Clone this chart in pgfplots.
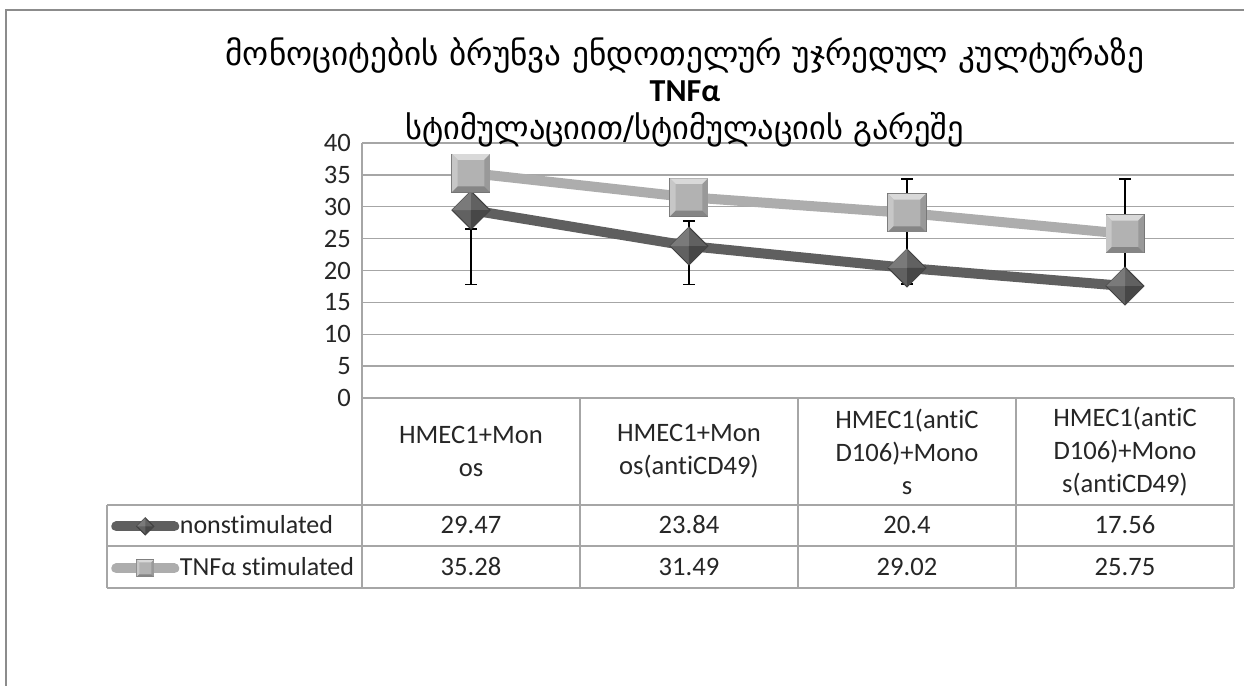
\documentclass[border=0pt]{standalone}
\usepackage{fontspec}
\setmainfont{Carlito}[Ligatures={NoCommon}]
\newfontfamily\geo{DejaVu Sans}
\usepackage{pgfplots}
\pgfplotsset{compat=1.18}
\usepackage{pgfplotstable}

\definecolor{gridc}{HTML}{A6A6A6}
\definecolor{framec}{HTML}{8C8C8C}
\definecolor{nonc}{HTML}{5F5F5F}
\definecolor{tnfc}{HTML}{ADADAD}
\definecolor{txt}{HTML}{262626}

% bevelled marks (Excel 3D look)
\pgfdeclareplotmark{bevsq}{%
  \pgfsetlinewidth{0.5pt}%
  \pgfsetfillcolor{black!30}\pgfsetstrokecolor{black!55}%
  \pgfpathrectangle{\pgfpoint{-\pgfplotmarksize}{-\pgfplotmarksize}}{\pgfpoint{2\pgfplotmarksize}{2\pgfplotmarksize}}%
  \pgfusepath{fill,stroke}%
  \pgfsetfillcolor{black!15}% top
  \pgfpathmoveto{\pgfpoint{-\pgfplotmarksize}{\pgfplotmarksize}}\pgfpathlineto{\pgfpoint{\pgfplotmarksize}{\pgfplotmarksize}}%
  \pgfpathlineto{\pgfpoint{0.7\pgfplotmarksize}{0.7\pgfplotmarksize}}\pgfpathlineto{\pgfpoint{-0.7\pgfplotmarksize}{0.7\pgfplotmarksize}}\pgfpathclose\pgfusepath{fill}%
  \pgfsetfillcolor{black!22}% left
  \pgfpathmoveto{\pgfpoint{-\pgfplotmarksize}{\pgfplotmarksize}}\pgfpathlineto{\pgfpoint{-\pgfplotmarksize}{-\pgfplotmarksize}}%
  \pgfpathlineto{\pgfpoint{-0.7\pgfplotmarksize}{-0.7\pgfplotmarksize}}\pgfpathlineto{\pgfpoint{-0.7\pgfplotmarksize}{0.7\pgfplotmarksize}}\pgfpathclose\pgfusepath{fill}%
  \pgfsetfillcolor{black!40}% right
  \pgfpathmoveto{\pgfpoint{\pgfplotmarksize}{\pgfplotmarksize}}\pgfpathlineto{\pgfpoint{\pgfplotmarksize}{-\pgfplotmarksize}}%
  \pgfpathlineto{\pgfpoint{0.7\pgfplotmarksize}{-0.7\pgfplotmarksize}}\pgfpathlineto{\pgfpoint{0.7\pgfplotmarksize}{0.7\pgfplotmarksize}}\pgfpathclose\pgfusepath{fill}%
  \pgfsetfillcolor{black!48}% bottom
  \pgfpathmoveto{\pgfpoint{-\pgfplotmarksize}{-\pgfplotmarksize}}\pgfpathlineto{\pgfpoint{\pgfplotmarksize}{-\pgfplotmarksize}}%
  \pgfpathlineto{\pgfpoint{0.7\pgfplotmarksize}{-0.7\pgfplotmarksize}}\pgfpathlineto{\pgfpoint{-0.7\pgfplotmarksize}{-0.7\pgfplotmarksize}}\pgfpathclose\pgfusepath{fill}%
}
\pgfdeclareplotmark{bevdia}{%
  \pgftransformrotate{45}%
  \pgfsetlinewidth{0.5pt}%
  \pgfsetfillcolor{black!62}\pgfsetstrokecolor{black!75}%
  \pgfpathrectangle{\pgfpoint{-\pgfplotmarksize}{-\pgfplotmarksize}}{\pgfpoint{2\pgfplotmarksize}{2\pgfplotmarksize}}%
  \pgfusepath{fill,stroke}%
  \pgfsetfillcolor{black!52}%
  \pgfpathmoveto{\pgfpoint{-\pgfplotmarksize}{\pgfplotmarksize}}\pgfpathlineto{\pgfpoint{\pgfplotmarksize}{\pgfplotmarksize}}%
  \pgfpathlineto{\pgfpoint{0pt}{0pt}}\pgfpathclose\pgfusepath{fill}%
  \pgfsetfillcolor{black!72}%
  \pgfpathmoveto{\pgfpoint{\pgfplotmarksize}{-\pgfplotmarksize}}\pgfpathlineto{\pgfpoint{-\pgfplotmarksize}{-\pgfplotmarksize}}%
  \pgfpathlineto{\pgfpoint{0pt}{0pt}}\pgfpathclose\pgfusepath{fill}%
}

\pgfplotstableread{
x non tnf
1 29.47 35.28
2 23.84 31.49
3 20.4 29.02
4 17.56 25.75
}\datatab

\begin{document}
\begin{tikzpicture}
\useasboundingbox (0,0) rectangle (622pt,343pt);
\draw[framec, line width=1.3pt] (3pt,-5pt) -- (3pt,338pt) -- (640pt,338pt);
\begin{axis}[
  at={(181pt,144pt)}, anchor=south west,
  scale only axis, width=436pt, height=127.5pt,
  clip=false,
  xmin=0.5, xmax=4.5, ymin=0, ymax=40,
  ytick={0,5,...,40},
  xtick={1,2,3,4},
  xticklabels={{HMEC1+Mon\\os},{HMEC1+Mon\\os(antiCD49)},{HMEC1(antiC\\D106)+Mono\\s},{HMEC1(antiC\\D106)+Mono\\s(antiCD49)}},
  xticklabel style={anchor=center, yshift=-26.75pt, align=center, text=txt,
    font=\fontsize{13.3}{16.5}\selectfont},
  yticklabel style={text=txt, font=\fontsize{13.3}{15}\selectfont, xshift=-2pt},
  /pgf/number format/assume math mode=true,
  major tick length=0pt,
  axis x line*=bottom, axis y line*=left,
  axis line style={gridc, line width=0.7pt, -},
  ymajorgrids, grid style={gridc, line width=0.7pt},
  legend style={at={(rel axis cs:-0.288,-0.4196)}, anchor=north west,
    draw=none, fill=none, inner sep=0pt, row sep=0pt,
    font=\fontsize{13}{15}\selectfont, text=txt,
    nodes={inner xsep=0.3pt, inner ysep=0pt, minimum height=21pt}},
  legend cell align=left,
  legend image code/.code={%
    \draw[mark repeat=2, mark phase=2, #1, line cap=round, every mark/.append style={scale=0.45}]
      plot coordinates {(0pt,0pt)(14.5pt,0pt)(29pt,0pt)};},
]
% error bars first, so markers sit on top
\addplot[forget plot, draw=none, mark=none,
  error bars/.cd, y dir=both, y explicit,
  error bar style={draw=black, line width=0.8pt},
  error mark options={draw=black, line width=0.8pt, mark size=3pt, rotate=90}]
  coordinates {
  (1,29.47) += (0,0)    -= (0,11.67)
  (2,23.84) += (0,3.96) -= (0,6.04)
  (3,20.4)  += (0,0)    -= (0,2.5)
  (4,17.56) += (0,0)    -= (0,0)
  };
\addplot[forget plot, draw=none, mark=none,
  error bars/.cd, y dir=both, y explicit,
  error bar style={draw=black, line width=0.8pt},
  error mark options={draw=black, line width=0.8pt, mark size=3pt, rotate=90}]
  coordinates {
  (1,35.28) += (0,0)    -= (0,8.78)
  (2,31.49) += (0,0)    -= (0,0)
  (3,29.02) += (0,5.38) -= (0,7.52)
  (4,25.75) += (0,8.65) -= (0,7.25)
  };
\addplot[nonc, line width=5pt, mark=bevdia, mark size=6.7pt] table[x=x, y=non]{\datatab};
\addlegendentry{nonstimulated}
\addplot[tnfc, line width=5pt, mark=bevsq, mark size=9.5pt] table[x=x, y=tnf]{\datatab};
\addlegendentry{TNFα stimulated}
% values of the data table
\addplot[forget plot, draw=none, mark=none, nodes near coords, point meta=explicit symbolic,
  every node near coord/.append style={anchor=center, text=txt, font=\fontsize{13.3}{15}\selectfont}]
  table[x=x, y expr=-19.92, meta=non]{\datatab};
\addplot[forget plot, draw=none, mark=none, nodes near coords, point meta=explicit symbolic,
  every node near coord/.append style={anchor=center, text=txt, font=\fontsize{13.3}{15}\selectfont}]
  table[x=x, y expr=-26.51, meta=tnf]{\datatab};
% table grid
\draw[gridc, line width=0.7pt]
  (rel axis cs:0,0) -- (rel axis cs:0,-0.7451)
  (rel axis cs:0.25,0) -- (rel axis cs:0.25,-0.7451)
  (rel axis cs:0.5,0) -- (rel axis cs:0.5,-0.7451)
  (rel axis cs:0.75,0) -- (rel axis cs:0.75,-0.7451)
  (rel axis cs:1,0) -- (rel axis cs:1,-0.7451)
  (rel axis cs:-0.2924,-0.4196) -- (rel axis cs:1,-0.4196)
  (rel axis cs:-0.2924,-0.5804) -- (rel axis cs:1,-0.5804)
  (rel axis cs:-0.2924,-0.7451) -- (rel axis cs:1,-0.7451)
  (rel axis cs:-0.2924,-0.4196) -- (rel axis cs:-0.2924,-0.7451);
% title
\node[font=\geo\fontsize{16.6}{19}\selectfont, text=black] at (rel axis cs:0.3704,1.345)
  {მონოციტების ბრუნვა ენდოთელურ უჯრედულ კულტურაზე};
\node[font=\bfseries\fontsize{16}{19}\selectfont, text=black] at (rel axis cs:0.3704,1.204) {TNFα};
\node[font=\geo\fontsize{16.2}{19}\selectfont, text=black] at (rel axis cs:0.3704,1.051)
  {სტიმულაციით/სტიმულაციის გარეშე};
\end{axis}
\end{tikzpicture}
\end{document}
